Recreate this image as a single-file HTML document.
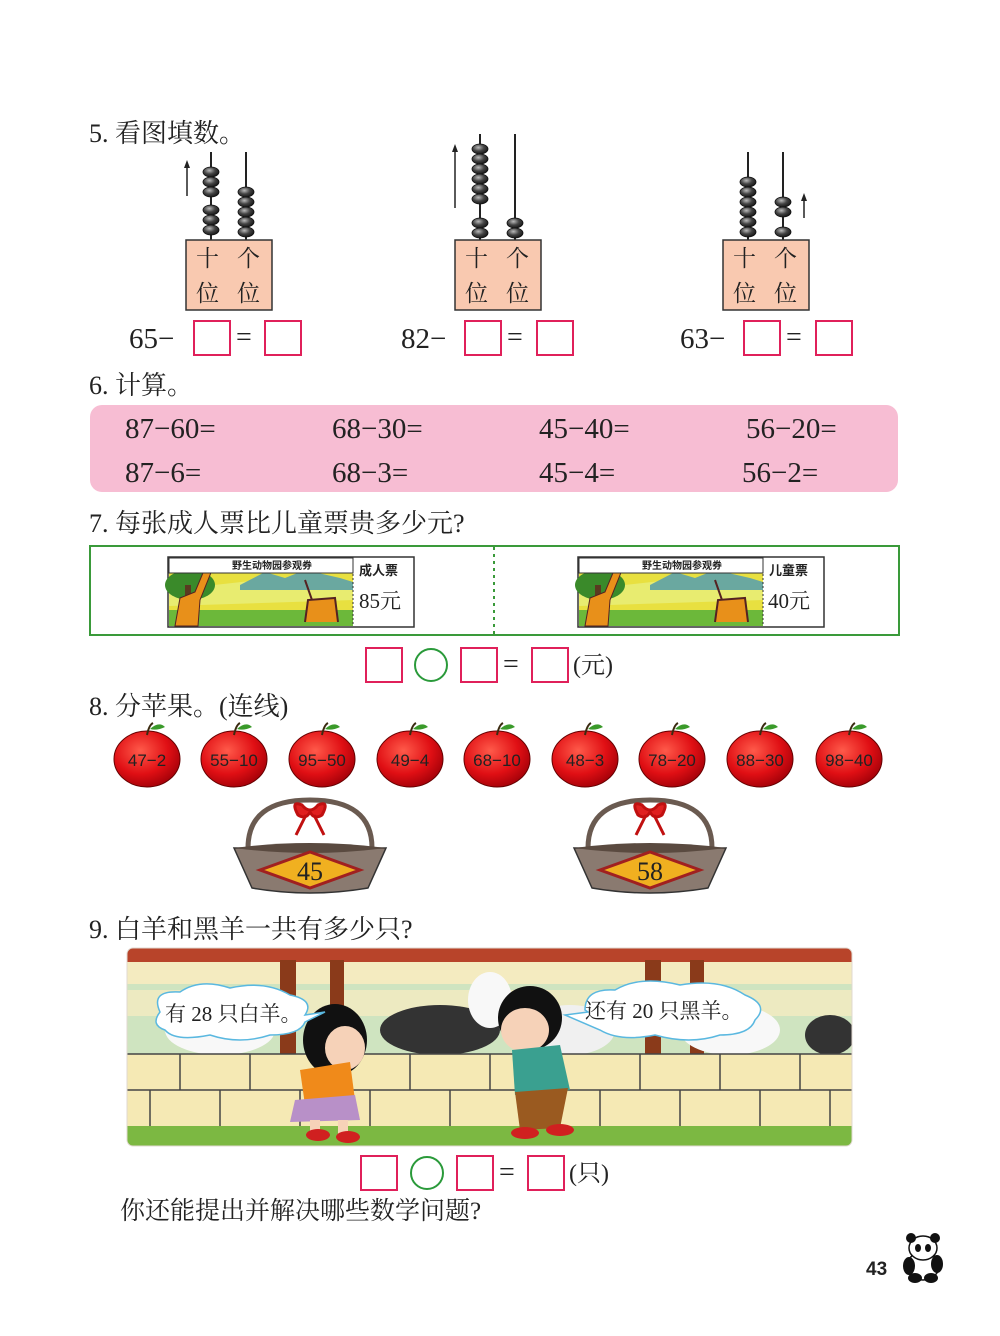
<!DOCTYPE html>
<html><head><meta charset="utf-8"><style>
html,body{margin:0;padding:0;background:#fff}
svg{display:block}
text{font-family:"Liberation Serif","Noto Serif CJK SC","Noto Sans CJK SC",serif;fill:#222}
.s{font-family:"Liberation Sans","Noto Sans CJK SC",sans-serif}
</style></head><body>
<svg width="1000" height="1336" viewBox="0 0 1000 1336" xmlns="http://www.w3.org/2000/svg">
<defs>
<radialGradient id="bead" cx="0.4" cy="0.35" r="0.7"><stop offset="0" stop-color="#bbb"/><stop offset="0.5" stop-color="#444"/><stop offset="1" stop-color="#111"/></radialGradient>
<radialGradient id="ap" cx="0.4" cy="0.35" r="0.7"><stop offset="0" stop-color="#ff5a4a"/><stop offset="0.6" stop-color="#e00f14"/><stop offset="1" stop-color="#a00008"/></radialGradient>
<g id="b"><ellipse cx="0" cy="0" rx="8" ry="5" fill="url(#bead)" stroke="#111" stroke-width="0.8"/></g>
</defs>

<!-- Section 5 -->
<text x="89" y="142" font-size="26">5. 看图填数。</text>
<!-- abacus 1 -->
<line x1="211" y1="152" x2="211" y2="240" stroke="#222" stroke-width="2"/>
<line x1="246" y1="152" x2="246" y2="240" stroke="#222" stroke-width="2"/>
<line x1="187" y1="196" x2="187" y2="164" stroke="#222" stroke-width="1.5"/><path d="M184,168 L187,160 L190,168Z" fill="#222"/>
<use href="#b" x="211" y="172"/><use href="#b" x="211" y="182"/><use href="#b" x="211" y="192"/>
<use href="#b" x="211" y="210"/><use href="#b" x="211" y="220"/><use href="#b" x="211" y="230"/>
<use href="#b" x="246" y="192"/><use href="#b" x="246" y="202"/><use href="#b" x="246" y="212"/><use href="#b" x="246" y="222"/><use href="#b" x="246" y="232"/>
<rect x="186" y="240" width="86" height="70" fill="#f9c9b0" stroke="#333" stroke-width="1.5"/>
<text x="196" y="266" font-size="23">十</text><text x="237" y="266" font-size="23">个</text>
<text x="196" y="301" font-size="23">位</text><text x="237" y="301" font-size="23">位</text>
<text x="129" y="348" font-size="29">65−</text>
<rect x="194" y="321" width="36" height="34" fill="none" stroke="#e0205a" stroke-width="2"/>
<text x="236" y="346" font-size="28">=</text>
<rect x="265" y="321" width="36" height="34" fill="none" stroke="#e0205a" stroke-width="2"/>
<!-- abacus 2 -->
<line x1="480" y1="134" x2="480" y2="240" stroke="#222" stroke-width="2"/>
<line x1="515" y1="134" x2="515" y2="240" stroke="#222" stroke-width="2"/>
<line x1="455" y1="208" x2="455" y2="148" stroke="#222" stroke-width="1.5"/><path d="M452,152 L455,144 L458,152Z" fill="#222"/>
<use href="#b" x="480" y="149"/><use href="#b" x="480" y="159"/><use href="#b" x="480" y="169"/><use href="#b" x="480" y="179"/><use href="#b" x="480" y="189"/><use href="#b" x="480" y="199"/>
<use href="#b" x="480" y="223"/><use href="#b" x="480" y="233"/>
<use href="#b" x="515" y="223"/><use href="#b" x="515" y="233"/>
<rect x="455" y="240" width="86" height="70" fill="#f9c9b0" stroke="#333" stroke-width="1.5"/>
<text x="465" y="266" font-size="23">十</text><text x="506" y="266" font-size="23">个</text>
<text x="465" y="301" font-size="23">位</text><text x="506" y="301" font-size="23">位</text>
<text x="401" y="348" font-size="29">82−</text>
<rect x="465" y="321" width="36" height="34" fill="none" stroke="#e0205a" stroke-width="2"/>
<text x="507" y="346" font-size="28">=</text>
<rect x="537" y="321" width="36" height="34" fill="none" stroke="#e0205a" stroke-width="2"/>
<!-- abacus 3 -->
<line x1="748" y1="152" x2="748" y2="240" stroke="#222" stroke-width="2"/>
<line x1="783" y1="152" x2="783" y2="240" stroke="#222" stroke-width="2"/>
<line x1="804" y1="218" x2="804" y2="198" stroke="#222" stroke-width="1.5"/><path d="M801,201 L804,193 L807,201Z" fill="#222"/>
<use href="#b" x="748" y="182"/><use href="#b" x="748" y="192"/><use href="#b" x="748" y="202"/><use href="#b" x="748" y="212"/><use href="#b" x="748" y="222"/><use href="#b" x="748" y="232"/>
<use href="#b" x="783" y="202"/><use href="#b" x="783" y="212"/><use href="#b" x="783" y="232"/>
<rect x="723" y="240" width="86" height="70" fill="#f9c9b0" stroke="#333" stroke-width="1.5"/>
<text x="733" y="266" font-size="23">十</text><text x="774" y="266" font-size="23">个</text>
<text x="733" y="301" font-size="23">位</text><text x="774" y="301" font-size="23">位</text>
<text x="680" y="348" font-size="29">63−</text>
<rect x="744" y="321" width="36" height="34" fill="none" stroke="#e0205a" stroke-width="2"/>
<text x="786" y="346" font-size="28">=</text>
<rect x="816" y="321" width="36" height="34" fill="none" stroke="#e0205a" stroke-width="2"/>

<!-- Section 6 -->
<text x="89" y="394" font-size="26">6. 计算。</text>
<rect x="90" y="405" width="808" height="87" rx="12" fill="#f7bdd3"/>
<g font-size="29">
<text x="125" y="438">87−60=</text><text x="332" y="438">68−30=</text><text x="539" y="438">45−40=</text><text x="746" y="438">56−20=</text>
<text x="125" y="482">87−6=</text><text x="332" y="482">68−3=</text><text x="539" y="482">45−4=</text><text x="742" y="482">56−2=</text>
</g>

<!-- Section 7 -->
<text x="89" y="532" font-size="26">7. 每张成人票比儿童票贵多少元?</text>
<rect x="90" y="546" width="809" height="89" fill="none" stroke="#3a9a3a" stroke-width="2"/>
<line x1="494" y1="547" x2="494" y2="634" stroke="#3a9a3a" stroke-width="2" stroke-dasharray="3,4"/>
<g id="t1">
<rect x="168" y="557" width="246" height="70" fill="#fff" stroke="#333" stroke-width="1.5"/>
<rect x="169" y="573" width="184" height="53" fill="#e8e040"/>
<path d="M169,590 L260,580 L353,585 L353,600 L169,606Z" fill="#e8ec70"/>
<path d="M240,585 L265,572 L285,578 L305,570 L340,578 L353,582 L353,590 L240,590Z" fill="#6aa8a0"/>
<rect x="169" y="610" width="184" height="16" fill="#6cb83a"/>
<ellipse cx="190" cy="585" rx="25" ry="15" fill="#3a8a2a"/>
<rect x="185" y="585" width="6" height="40" fill="#5a3a20"/>
<path d="M175,626 L180,598 L195,592 L205,568 L212,570 L200,600 L198,626Z" fill="#e8901a" stroke="#522" stroke-width="1"/>
<path d="M305,622 L308,600 L335,598 L338,622 M312,600 L305,580" fill="#e8901a" stroke="#522" stroke-width="2"/>
<rect x="169" y="558" width="184" height="15" fill="#fff" stroke="#333" stroke-width="1"/>
<line x1="353" y1="558" x2="353" y2="626" stroke="#333" stroke-dasharray="2,2"/>
</g>
<text x="232" y="569" font-size="10" class="s" font-weight="bold">野生动物园参观券</text>
<text x="359" y="575" font-size="13" class="s" font-weight="bold">成人票</text>
<text x="359" y="608" font-size="21">85元</text>
<use href="#t1" x="410" y="0"/>
<text x="642" y="569" font-size="10" class="s" font-weight="bold">野生动物园参观券</text>
<text x="769" y="575" font-size="13" class="s" font-weight="bold">儿童票</text>
<text x="768" y="608" font-size="21">40元</text>
<rect x="366" y="648" width="36" height="34" fill="none" stroke="#e0205a" stroke-width="2"/>
<circle cx="431" cy="665" r="16" fill="none" stroke="#2a9a3a" stroke-width="2"/>
<rect x="461" y="648" width="36" height="34" fill="none" stroke="#e0205a" stroke-width="2"/>
<text x="503" y="673" font-size="28">=</text>
<rect x="532" y="648" width="36" height="34" fill="none" stroke="#e0205a" stroke-width="2"/>
<text x="573" y="673" font-size="24">(元)</text>

<!-- Section 8 -->
<text x="89" y="715" font-size="26">8. 分苹果。(连线)</text>
<g class="s" font-size="17" text-anchor="middle">
<g transform="translate(147,759)"><ellipse rx="33" ry="28" fill="url(#ap)" stroke="#600" stroke-width="1"/><path d="M0,-24 Q2,-34 6,-36" stroke="#3a2a10" stroke-width="2" fill="none"/><path d="M3,-30 Q12,-38 18,-32 Q10,-28 3,-30Z" fill="#3a9a2a"/><text y="7" fill="#fff" class="s">47−2</text></g>
<g transform="translate(234,759)"><ellipse rx="33" ry="28" fill="url(#ap)" stroke="#600" stroke-width="1"/><path d="M0,-24 Q2,-34 6,-36" stroke="#3a2a10" stroke-width="2" fill="none"/><path d="M3,-30 Q12,-38 18,-32 Q10,-28 3,-30Z" fill="#3a9a2a"/><text y="7" fill="#fff" class="s">55−10</text></g>
<g transform="translate(322,759)"><ellipse rx="33" ry="28" fill="url(#ap)" stroke="#600" stroke-width="1"/><path d="M0,-24 Q2,-34 6,-36" stroke="#3a2a10" stroke-width="2" fill="none"/><path d="M3,-30 Q12,-38 18,-32 Q10,-28 3,-30Z" fill="#3a9a2a"/><text y="7" fill="#fff" class="s">95−50</text></g>
<g transform="translate(410,759)"><ellipse rx="33" ry="28" fill="url(#ap)" stroke="#600" stroke-width="1"/><path d="M0,-24 Q2,-34 6,-36" stroke="#3a2a10" stroke-width="2" fill="none"/><path d="M3,-30 Q12,-38 18,-32 Q10,-28 3,-30Z" fill="#3a9a2a"/><text y="7" fill="#fff" class="s">49−4</text></g>
<g transform="translate(497,759)"><ellipse rx="33" ry="28" fill="url(#ap)" stroke="#600" stroke-width="1"/><path d="M0,-24 Q2,-34 6,-36" stroke="#3a2a10" stroke-width="2" fill="none"/><path d="M3,-30 Q12,-38 18,-32 Q10,-28 3,-30Z" fill="#3a9a2a"/><text y="7" fill="#fff" class="s">68−10</text></g>
<g transform="translate(585,759)"><ellipse rx="33" ry="28" fill="url(#ap)" stroke="#600" stroke-width="1"/><path d="M0,-24 Q2,-34 6,-36" stroke="#3a2a10" stroke-width="2" fill="none"/><path d="M3,-30 Q12,-38 18,-32 Q10,-28 3,-30Z" fill="#3a9a2a"/><text y="7" fill="#fff" class="s">48−3</text></g>
<g transform="translate(672,759)"><ellipse rx="33" ry="28" fill="url(#ap)" stroke="#600" stroke-width="1"/><path d="M0,-24 Q2,-34 6,-36" stroke="#3a2a10" stroke-width="2" fill="none"/><path d="M3,-30 Q12,-38 18,-32 Q10,-28 3,-30Z" fill="#3a9a2a"/><text y="7" fill="#fff" class="s">78−20</text></g>
<g transform="translate(760,759)"><ellipse rx="33" ry="28" fill="url(#ap)" stroke="#600" stroke-width="1"/><path d="M0,-24 Q2,-34 6,-36" stroke="#3a2a10" stroke-width="2" fill="none"/><path d="M3,-30 Q12,-38 18,-32 Q10,-28 3,-30Z" fill="#3a9a2a"/><text y="7" fill="#fff" class="s">88−30</text></g>
<g transform="translate(849,759)"><ellipse rx="33" ry="28" fill="url(#ap)" stroke="#600" stroke-width="1"/><path d="M0,-24 Q2,-34 6,-36" stroke="#3a2a10" stroke-width="2" fill="none"/><path d="M3,-30 Q12,-38 18,-32 Q10,-28 3,-30Z" fill="#3a9a2a"/><text y="7" fill="#fff" class="s">98−40</text></g>
</g>
<!-- baskets -->
<g id="bk" transform="translate(310,0)">
<path d="M-62,848 Q-62,800 0,800 Q62,800 62,848" fill="none" stroke="#6a5a50" stroke-width="5"/>
<path d="M-76,848 L76,848 L58,888 Q0,898 -58,888Z" fill="#8a7a70" stroke="#333" stroke-width="1.5"/>
<path d="M-76,848 Q0,838 76,848 Q0,858 -76,848Z" fill="#5a4a40"/>
<path d="M-50,870 L0,852 L50,870 L0,888Z" fill="#f0b020" stroke="#a02020" stroke-width="3"/>
<path d="M-8,805 Q-20,800 -12,815 Q-4,820 0,812 Q4,820 12,815 Q20,800 8,805 Q0,815 -8,805Z M-4,815 L-14,835 M4,815 L14,835" fill="#e02020" stroke="#c01010" stroke-width="3"/>
</g>
<use href="#bk" x="340" y="0"/>
<text x="310" y="880" font-size="26" text-anchor="middle" fill="#222">45</text>
<text x="650" y="880" font-size="26" text-anchor="middle" fill="#222">58</text>

<!-- Section 9 -->
<text x="89" y="938" font-size="26">9. 白羊和黑羊一共有多少只?</text>
<clipPath id="sc"><rect x="127" y="948" width="725" height="198" rx="6"/></clipPath>
<g clip-path="url(#sc)">
<rect x="127" y="948" width="725" height="198" fill="#cfe4c0"/>
<rect x="127" y="948" width="725" height="14" fill="#b8442a"/>
<rect x="127" y="962" width="725" height="22" fill="#f4ebc0"/>
<rect x="127" y="990" width="725" height="26" fill="#f4ebc0" opacity="0.8"/>
<rect x="280" y="960" width="16" height="95" fill="#8a3a1a"/><rect x="330" y="960" width="14" height="95" fill="#8a3a1a"/>
<rect x="645" y="960" width="16" height="95" fill="#8a3a1a"/><rect x="690" y="960" width="14" height="95" fill="#8a3a1a"/>
<ellipse cx="220" cy="1030" rx="55" ry="25" fill="#f8f8f8"/>
<ellipse cx="440" cy="1030" rx="60" ry="25" fill="#333"/>
<ellipse cx="490" cy="1000" rx="22" ry="28" fill="#f8f8f8"/>
<ellipse cx="570" cy="1030" rx="45" ry="25" fill="#f0f0f0"/>
<ellipse cx="730" cy="1030" rx="50" ry="25" fill="#f8f8f8"/>
<ellipse cx="830" cy="1035" rx="25" ry="20" fill="#333"/>
<rect x="127" y="1054" width="725" height="74" fill="#f5e9b4"/>
<g stroke="#444" stroke-width="1.5" fill="none">
<line x1="127" y1="1054" x2="852" y2="1054"/><line x1="127" y1="1090" x2="852" y2="1090"/>
<path d="M180,1054 V1090 M250,1054 V1090 M330,1054 V1090 M410,1054 V1090 M490,1054 V1090 M560,1054 V1090 M640,1054 V1090 M720,1054 V1090 M800,1054 V1090"/>
<path d="M150,1090 V1128 M220,1090 V1128 M300,1090 V1128 M370,1090 V1128 M450,1090 V1128 M530,1090 V1128 M600,1090 V1128 M680,1090 V1128 M760,1090 V1128 M830,1090 V1128"/>
</g>
<rect x="127" y="1126" width="725" height="20" fill="#7cb842"/>
<!-- girl -->
<ellipse cx="335" cy="1040" rx="32" ry="36" fill="#111"/>
<ellipse cx="345" cy="1048" rx="20" ry="22" fill="#f6d2b8"/>
<path d="M300,1070 L350,1062 L355,1100 L305,1105Z" fill="#f08a1a"/>
<path d="M295,1100 L355,1095 L360,1120 L290,1122Z" fill="#b890c8"/>
<rect x="310" y="1120" width="10" height="15" fill="#f6d2b8"/><rect x="338" y="1120" width="10" height="15" fill="#f6d2b8"/>
<ellipse cx="318" cy="1135" rx="12" ry="6" fill="#d02020"/><ellipse cx="348" cy="1137" rx="12" ry="6" fill="#d02020"/>
<!-- boy -->
<ellipse cx="530" cy="1018" rx="32" ry="32" fill="#111"/>
<ellipse cx="525" cy="1030" rx="24" ry="22" fill="#f6d2b8"/>
<path d="M512,1050 L560,1045 L570,1090 L515,1095Z" fill="#3aa090"/>
<path d="M515,1092 L568,1088 L560,1128 L520,1130Z" fill="#9a5a20"/>
<ellipse cx="525" cy="1133" rx="14" ry="6" fill="#d02020"/><ellipse cx="560" cy="1130" rx="14" ry="6" fill="#d02020"/>
</g>
<rect x="127" y="948" width="725" height="198" rx="6" fill="none" stroke="#e0d8d0" stroke-width="1"/>
<!-- bubbles -->
<path d="M160,1012 Q150,990 180,992 Q200,978 230,988 Q265,980 290,995 Q315,1000 305,1015 L325,1012 L305,1022 Q300,1035 270,1035 Q240,1045 210,1035 Q175,1042 165,1030 Q150,1025 160,1012Z" fill="#fff" stroke="#5ab8e0" stroke-width="1.5"/>
<text x="165" y="1021" font-size="21">有 28 只白羊。</text>
<path d="M585,1010 Q585,988 615,990 Q640,975 680,985 Q720,978 745,995 Q770,1005 755,1020 Q750,1035 720,1035 Q690,1045 655,1035 Q620,1042 600,1030 L565,1015 L588,1012Z" fill="#fff" stroke="#5ab8e0" stroke-width="1.5"/>
<text x="585" y="1018" font-size="21">还有 20 只黑羊。</text>

<rect x="361" y="1156" width="36" height="34" fill="none" stroke="#e0205a" stroke-width="2"/>
<circle cx="427" cy="1173" r="16" fill="none" stroke="#2a9a3a" stroke-width="2"/>
<rect x="457" y="1156" width="36" height="34" fill="none" stroke="#e0205a" stroke-width="2"/>
<text x="499" y="1181" font-size="28">=</text>
<rect x="528" y="1156" width="36" height="34" fill="none" stroke="#e0205a" stroke-width="2"/>
<text x="569" y="1181" font-size="24">(只)</text>
<text x="120" y="1219" font-size="25">你还能提出并解决哪些数学问题?</text>

<text x="866" y="1275" font-size="19" class="s" font-weight="bold">43</text>
<g transform="translate(923,1258)">
<ellipse cx="0" cy="8" rx="16" ry="14" fill="#fff" stroke="#111" stroke-width="1.5"/>
<ellipse cx="0" cy="-10" rx="14" ry="12" fill="#fff" stroke="#111" stroke-width="1.5"/>
<circle cx="-12" cy="-20" r="5" fill="#111"/><circle cx="12" cy="-20" r="5" fill="#111"/>
<ellipse cx="-5" cy="-10" rx="3" ry="4" fill="#111"/><ellipse cx="5" cy="-10" rx="3" ry="4" fill="#111"/>
<ellipse cx="-14" cy="8" rx="6" ry="9" fill="#111"/><ellipse cx="14" cy="6" rx="6" ry="9" fill="#111"/>
<ellipse cx="-8" cy="20" rx="7" ry="5" fill="#111"/><ellipse cx="8" cy="20" rx="7" ry="5" fill="#111"/>
</g>
</svg>
</body></html>
